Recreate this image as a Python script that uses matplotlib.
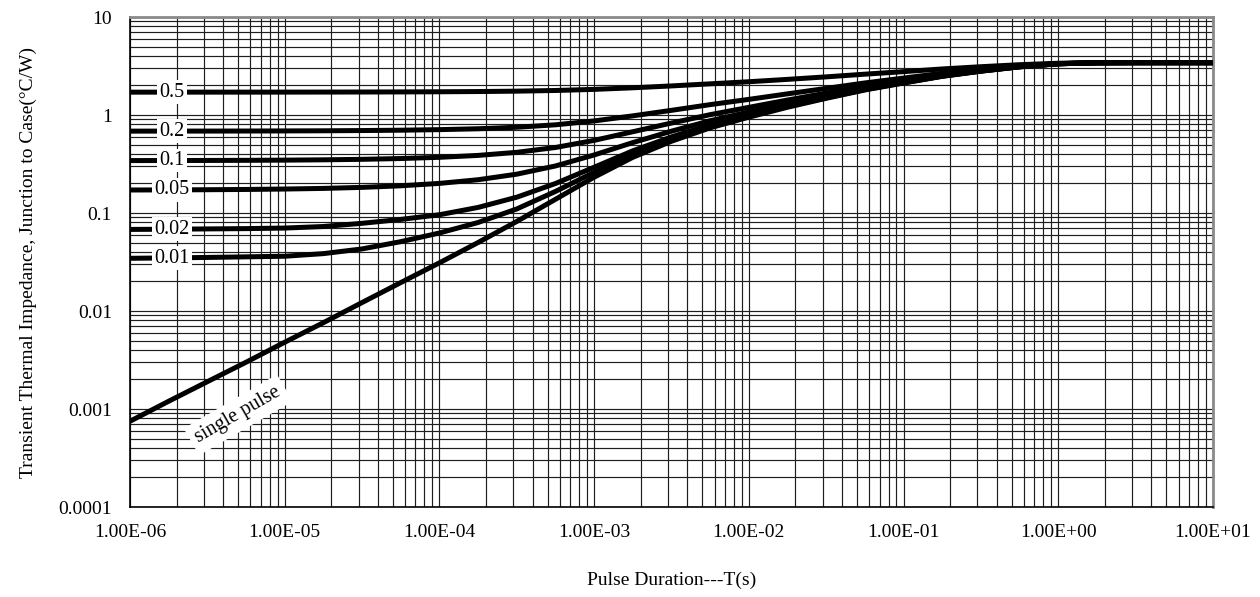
import matplotlib
matplotlib.use("Agg")
import matplotlib.pyplot as plt
from matplotlib.ticker import FixedLocator, FixedFormatter, LogLocator, NullFormatter

plt.rcParams['font.family'] = ['Liberation Serif', 'DejaVu Serif']

# Pulse durations (s), as powers of ten
t_exp = [-6, -5.75, -5.5, -5.25, -5, -4.75, -4.5, -4.25, -4, -3.75, -3.5, -3.25, -3,
         -2.75, -2.5, -2.25, -2, -1.75, -1.5, -1.25, -1, -0.75, -0.5, -0.25, 0, 0.25, 0.5, 1]
t = [10.0 ** e for e in t_exp]

single_pulse = [0.00075, 0.0012, 0.0019, 0.0030, 0.0048, 0.0076, 0.0122, 0.0195, 0.031,
                0.050, 0.082, 0.138, 0.232, 0.370, 0.54, 0.74, 0.95, 1.20, 1.48, 1.80,
                2.12, 2.48, 2.80, 3.10, 3.33, 3.41, 3.42, 3.42]
d_050 = [1.710, 1.7106, 1.711, 1.7115, 1.712, 1.7138, 1.716, 1.7198, 1.726, 1.735, 1.751,
         1.779, 1.826, 1.895, 1.98, 2.08, 2.185, 2.31, 2.45, 2.61, 2.77, 2.95, 3.11, 3.26,
         3.375, 3.415, 3.42, 3.42]
d_020 = [0.6846, 0.6850, 0.6855, 0.6864, 0.688, 0.6901, 0.694, 0.6996, 0.709, 0.724, 0.750,
         0.794, 0.870, 0.980, 1.116, 1.276, 1.444, 1.644, 1.868, 2.124, 2.38, 2.668, 2.924,
         3.164, 3.348, 3.412, 3.42, 3.42]
d_010 = [0.3427, 0.3431, 0.3437, 0.3447, 0.3463, 0.3488, 0.353, 0.3596, 0.370, 0.387, 0.416,
         0.466, 0.551, 0.675, 0.828, 1.008, 1.197, 1.422, 1.674, 1.962, 2.25, 2.574, 2.862,
         3.132, 3.339, 3.411, 3.42, 3.42]
d_005 = [0.1717, 0.1721, 0.1728, 0.1739, 0.1756, 0.1782, 0.1826, 0.1895, 0.2005, 0.2185, 0.249,
         0.302, 0.391, 0.523, 0.684, 0.874, 1.074, 1.311, 1.577, 1.881, 2.185, 2.527, 2.831,
         3.116, 3.335, 3.41, 3.42, 3.42]
d_002 = [0.0680, 0.0683, 0.0688, 0.0693, 0.0702, 0.0728, 0.0785, 0.0860, 0.0960, 0.114, 0.145,
         0.200, 0.2930, 0.431, 0.598, 0.794, 0.999, 1.244, 1.519, 1.832, 2.146, 2.499, 2.812,
         3.106, 3.332, 3.41, 3.42, 3.42]
d_001 = [0.0345, 0.0348, 0.0352, 0.0357, 0.0362, 0.0385, 0.0430, 0.0510, 0.0625, 0.080, 0.110,
         0.166, 0.2600, 0.3999, 0.569, 0.767, 0.975, 1.222, 1.499, 1.816, 2.133, 2.49, 2.806,
         3.103, 3.331, 3.41, 3.42, 3.42]

duty_labels = ["0.5", "0.2", "0.1", "0.05", "0.02", "0.01"]
duty_series = [d_050, d_020, d_010, d_005, d_002, d_001]

x_ticks = [1e-6, 1e-5, 1e-4, 1e-3, 1e-2, 1e-1, 1e0, 1e1]
x_tick_labels = ["1.00E-06", "1.00E-05", "1.00E-04", "1.00E-03",
                 "1.00E-02", "1.00E-01", "1.00E+00", "1.00E+01"]
y_ticks = [1e-4, 1e-3, 1e-2, 1e-1, 1e0, 1e1]
y_tick_labels = ["0.0001", "0.001", "0.01", "0.1", "1", "10"]

fig = plt.figure(figsize=(12.6, 5.97), dpi=100)
ax = fig.add_axes([130 / 1260, 1 - 507 / 597, (1213 - 130) / 1260, (507 - 17) / 597])

ax.set_xscale('log')
ax.set_yscale('log')
ax.set_xlim(1e-6, 1e1)
ax.set_ylim(1e-4, 1e1)

ax.xaxis.set_major_locator(FixedLocator(x_ticks))
ax.xaxis.set_major_formatter(FixedFormatter(x_tick_labels))
ax.yaxis.set_major_locator(FixedLocator(y_ticks))
ax.yaxis.set_major_formatter(FixedFormatter(y_tick_labels))
ax.xaxis.set_minor_locator(LogLocator(base=10, subs=range(2, 10), numticks=50))
ax.yaxis.set_minor_locator(LogLocator(base=10, subs=range(2, 10), numticks=50))
ax.xaxis.set_minor_formatter(NullFormatter())
ax.yaxis.set_minor_formatter(NullFormatter())
ax.grid(True, which='both', color='#1e1e1e', linewidth=0.85, zorder=0)
ax.set_axisbelow(True)
ax.tick_params(which='both', length=0, labelsize=14)
ax.tick_params(axis='x', pad=12)
ax.tick_params(axis='y', pad=13)

for lab, ys in zip(duty_labels, duty_series):
    ax.plot(t, ys, color='black', linewidth=3.6, solid_capstyle='butt', zorder=3)
    ax.text(1.87e-6, ys[0], lab, fontsize=14.5, ha='center', va='center', zorder=5,
            bbox=dict(boxstyle='square,pad=0.12', facecolor='white', edgecolor='none'))

ax.plot(t, single_pulse, color='black', linewidth=3.6, solid_capstyle='butt', zorder=3)
ax.text(5.0e-6, 0.00087, "single pulse", fontsize=14.5, rotation=30,
        ha='center', va='center', rotation_mode='anchor', zorder=5,
        bbox=dict(boxstyle='square,pad=0.3', facecolor='white', edgecolor='none'))

for side in ['left', 'bottom']:
    ax.spines[side].set_color('black')
    ax.spines[side].set_linewidth(1.2)
for side in ['top', 'right']:
    ax.spines[side].set_color('#8a8a8a')
    ax.spines[side].set_linewidth(2.0)

ax.set_xlabel("Pulse Duration---T(s)", fontsize=14, labelpad=22)
ax.set_ylabel("Transient Thermal Impedance, Junction to Case(°C/W)", fontsize=14, labelpad=15)

fig.savefig("out.png", dpi=100)
